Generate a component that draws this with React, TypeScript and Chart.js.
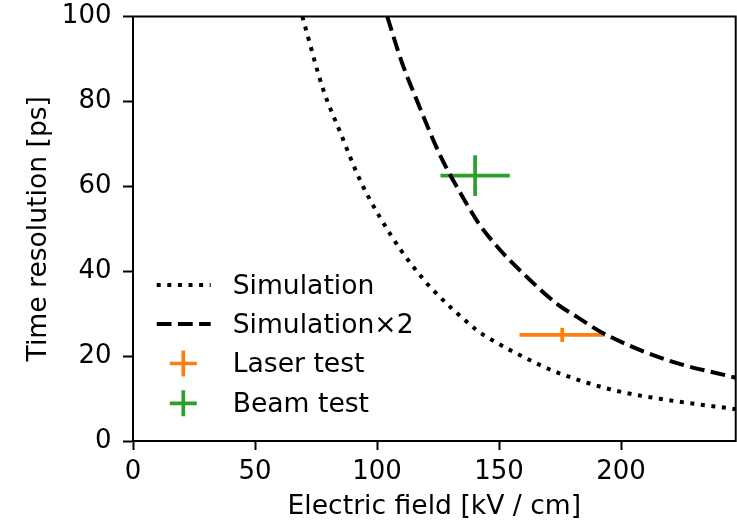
import React, { useEffect, useRef } from "react";
import { Chart, registerables } from "chart.js";

Chart.register(...registerables);

// Simulation curve
const simX = [69.4, 78.0, 84.8, 93.0, 101.2, 110.0, 118.7, 121.7, 140.9, 143.6, 166.8, 175.0, 196.8, 218.7, 247.0];
const simY = [100, 82.7, 72.9, 61.5, 52.7, 44.8, 38.3, 36.3, 26.1, 25.0, 17.9, 15.9, 12.0, 9.7, 7.5];

// Simulation x2 curve
const sim2X = [104.2, 110.0, 116.3, 125.8, 136.1, 142.0, 150.0, 161.3, 174.0, 181.8, 192.7, 218.7, 247.0];
const sim2Y = [100, 89.5, 80.3, 67.4, 56.5, 51.0, 45.3, 38.7, 32.2, 29.3, 25.4, 19.1, 14.9];

// Laser test
const laserX = [175.9];
const laserY = [25.0];
const laserXErr = [17.5];
const laserYErr = [1.7];

// Beam test
const beamX = [140.2];
const beamY = [62.5];
const beamXErr = [14.2];
const beamYErr = [4.8];

const xTicksStep = 50;
const yTicksStep = 20;
const xMax = 247;
const yMax = 100;

const legendLabels = ["Simulation", "Simulation×2", "Laser test", "Beam test"];

const FONT = "'DejaVu Sans', sans-serif";
const ORANGE = "#ff7f0e";
const GREEN = "#2ca02c";
const CURVE_W = 4;
const ERR_W = 3.7;
const DOT = [4, 6.6];
const DASH = [14.8, 6.4];
const TICK_FONT = 26;
const LABEL_FONT = 26.6;

function hSegs(xs: number[], ys: number[], xe: number[]) {
  const out: any[] = [];
  xs.forEach((x, i) => {
    if (i > 0) out.push({ x: NaN, y: NaN });
    out.push({ x: x - xe[i], y: ys[i] });
    out.push({ x: x + xe[i], y: ys[i] });
  });
  return out;
}
function vSegs(xs: number[], ys: number[], ye: number[]) {
  const out: any[] = [];
  xs.forEach((x, i) => {
    if (i > 0) out.push({ x: NaN, y: NaN });
    out.push({ x, y: ys[i] - ye[i] });
    out.push({ x, y: ys[i] + ye[i] });
  });
  return out;
}

const framePlugin = {
  id: "frameAndLegend",
  afterDraw(chart: any) {
    const { ctx, chartArea } = chart;
    const { left, top, right, bottom } = chartArea;
    ctx.save();
    ctx.strokeStyle = "#000";
    ctx.lineWidth = 2;
    ctx.strokeRect(left, top, right - left, bottom - top);

    // legend
    const rows = [bottom - 156, bottom - 117, bottom - 77.5, bottom - 37.7];
    const lx0 = left + 23.7;
    const lx1 = left + 77.7;
    const cx = left + 50.3;
    const tx = left + 99.7;
    ctx.lineCap = "butt";
    ctx.lineWidth = CURVE_W;
    ctx.strokeStyle = "#000";
    ctx.setLineDash(DOT);
    ctx.beginPath();
    ctx.moveTo(lx0, rows[0]);
    ctx.lineTo(lx1, rows[0]);
    ctx.stroke();
    ctx.setLineDash(DASH);
    ctx.beginPath();
    ctx.moveTo(lx0, rows[1]);
    ctx.lineTo(lx1, rows[1]);
    ctx.stroke();
    ctx.setLineDash([]);
    ctx.lineWidth = ERR_W;
    [ORANGE, GREEN].forEach((c, k) => {
      const y = rows[2 + k];
      ctx.strokeStyle = c;
      ctx.beginPath();
      ctx.moveTo(cx - 13.5, y);
      ctx.lineTo(cx + 13.5, y);
      ctx.moveTo(cx, y - 13);
      ctx.lineTo(cx, y + 13);
      ctx.stroke();
    });
    ctx.fillStyle = "#000";
    ctx.font = `${LABEL_FONT}px ${FONT}`;
    ctx.textBaseline = "middle";
    ctx.textAlign = "left";
    legendLabels.forEach((t, i) => ctx.fillText(t, tx, rows[i] + 2));
    ctx.restore();
  },
};

export default function App() {
  const ref = useRef<HTMLCanvasElement>(null);
  useEffect(() => {
    const canvas = ref.current!;
    const lineBase = {
      pointRadius: 0,
      fill: false,
      clip: 0,
      spanGaps: false,
      borderCapStyle: "butt",
    };
    const chart = new Chart(canvas, {
      type: "line",
      data: {
        datasets: [
          {
            ...lineBase,
            label: legendLabels[0],
            data: simX.map((x, i) => ({ x, y: simY[i] })),
            borderColor: "#000",
            borderWidth: CURVE_W,
            borderDash: DOT,
            cubicInterpolationMode: "monotone",
          },
          {
            ...lineBase,
            label: legendLabels[1],
            data: sim2X.map((x, i) => ({ x, y: sim2Y[i] })),
            borderColor: "#000",
            borderWidth: CURVE_W,
            borderDash: DASH,
            cubicInterpolationMode: "monotone",
          },
          {
            ...lineBase,
            label: legendLabels[2],
            data: hSegs(laserX, laserY, laserXErr),
            borderColor: ORANGE,
            borderWidth: ERR_W,
          },
          {
            ...lineBase,
            label: legendLabels[2] + " y",
            data: vSegs(laserX, laserY, laserYErr),
            borderColor: ORANGE,
            borderWidth: ERR_W,
          },
          {
            ...lineBase,
            label: legendLabels[3],
            data: hSegs(beamX, beamY, beamXErr),
            borderColor: GREEN,
            borderWidth: ERR_W,
          },
          {
            ...lineBase,
            label: legendLabels[3] + " y",
            data: vSegs(beamX, beamY, beamYErr),
            borderColor: GREEN,
            borderWidth: ERR_W,
          },
        ],
      },
      options: {
        animation: false,
        responsive: false,
        maintainAspectRatio: false,
        layout: { padding: { left: 23, top: 16.5, right: 1.3, bottom: 0 } },
        plugins: {
          legend: { display: false },
          tooltip: { enabled: false },
        },
        scales: {
          x: {
            type: "linear",
            min: 0,
            max: xMax,
            position: "bottom",
            ticks: {
              stepSize: xTicksStep,
              includeBounds: false,
              color: "#000",
              font: { family: FONT, size: TICK_FONT },
              padding: 7,
              maxRotation: 0,
            },
            grid: {
              drawOnChartArea: false,
              drawTicks: true,
              tickLength: 9,
              tickWidth: 2,
              tickColor: "#000",
              color: "#000",
            },
            border: { display: true, color: "#000", width: 2 },
            title: {
              display: true,
              text: "Electric field [kV / cm]",
              color: "#000",
              font: { family: FONT, size: LABEL_FONT },
              padding: 0,
            },
            afterFit: (s: any) => {
              s.height = 82;
              s.paddingLeft = 0;
              s.paddingRight = 0;
            },
          },
          y: {
            type: "linear",
            min: 0,
            max: yMax,
            ticks: {
              stepSize: yTicksStep,
              includeBounds: false,
              color: "#000",
              font: { family: FONT, size: TICK_FONT },
              padding: 11.5,
            },
            grid: {
              drawOnChartArea: false,
              drawTicks: true,
              tickLength: 10,
              tickWidth: 2,
              tickColor: "#000",
              color: "#000",
            },
            border: { display: true, color: "#000", width: 2 },
            title: {
              display: true,
              text: "Time resolution [ps]",
              color: "#000",
              font: { family: FONT, size: LABEL_FONT },
              padding: 0,
            },
            afterFit: (s: any) => {
              s.width = 110;
              s.paddingTop = 0;
              s.paddingBottom = 0;
            },
          },
        },
      } as any,
      plugins: [framePlugin],
    });
    return () => chart.destroy();
  }, []);
  return (
    <div style={{ position: "fixed", left: 0, top: 0, width: 737, height: 523, background: "#fff" }}>
      <canvas ref={ref} width={737} height={523} style={{ width: 737, height: 523, display: "block" }} />
    </div>
  );
}
